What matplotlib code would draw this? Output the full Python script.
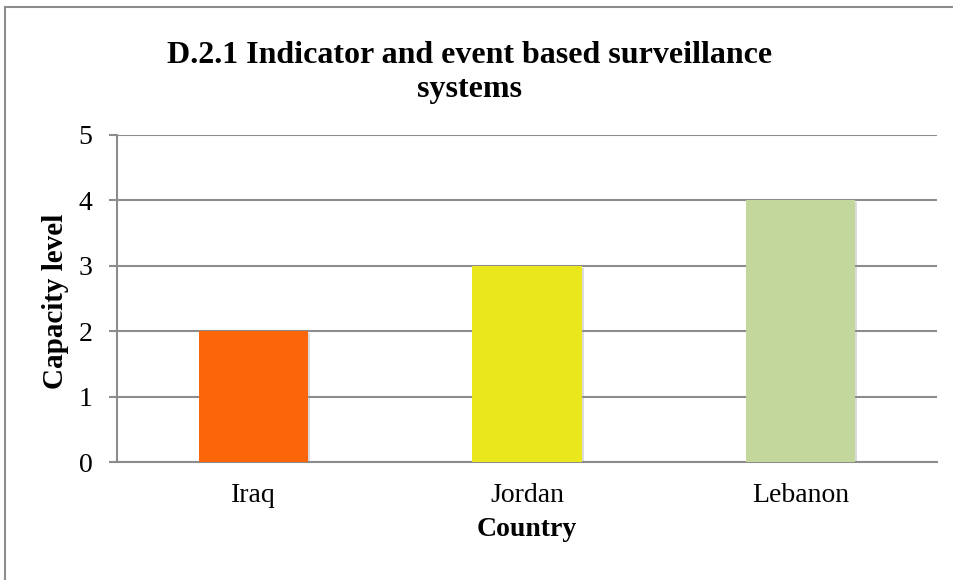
import matplotlib
matplotlib.use("Agg")
import matplotlib.pyplot as plt
import matplotlib.patheffects as pe
from matplotlib.lines import Line2D

countries = ["Iraq", "Jordan", "Lebanon"]
capacity = [2, 3, 4]
bar_colors = ["#FB660A", "#EAE81C", "#C3D69B"]
y_ticks = [0, 1, 2, 3, 4, 5]

title = "D.2.1 Indicator and event based surveillance\nsystems"

plt.rcParams["font.family"] = ["Liberation Serif", "DejaVu Serif"]

fig = plt.figure(figsize=(9.54, 5.80), dpi=100)
ax = fig.add_axes([117 / 954, 1 - 462 / 580, 820 / 954, 327 / 580])

bars = ax.bar(range(len(countries)), capacity, width=0.4, color=bar_colors, zorder=3)
for b in bars:
    b.set_path_effects([pe.SimplePatchShadow(offset=(1.5, -1.5), shadow_rgbFace="#999999", alpha=0.35),
                        pe.Normal()])

ax.set_xlim(-0.5, len(countries) - 0.5)
ax.set_ylim(0, 5)
ax.set_yticks(y_ticks)
ax.set_yticklabels([str(t) for t in y_ticks], fontsize=20)
ax.set_xticks(range(len(countries)))
ax.set_xticklabels(countries, fontsize=20)

grid_color = "#8C8C8C"
ax.yaxis.grid(True, color=grid_color, linewidth=1.5, zorder=0)
ax.xaxis.grid(False)
for s in ["top", "right"]:
    ax.spines[s].set_visible(False)
ax.spines["left"].set_color(grid_color)
ax.spines["left"].set_linewidth(1.5)
ax.spines["bottom"].set_color(grid_color)
ax.spines["bottom"].set_linewidth(1.5)
ax.tick_params(axis="y", length=5.8, width=1.5, color=grid_color, pad=12)
ax.tick_params(axis="x", length=0, pad=15)

ax.set_xlabel("Country", fontsize=20, fontweight="bold")
ax.set_ylabel("Capacity level", fontsize=21, fontweight="bold")
ax.xaxis.set_label_coords(0.5, (462 - 517) / 327)
ax.yaxis.set_label_coords((69 - 117) / 820, 0.49)

fig.text(470 / 954, 1 - 72.5 / 580, title, ha="center", va="center",
         fontsize=23, fontweight="bold", linespacing=1.25)

# chart frame edges
fig.add_artist(Line2D([5 / 954, 5 / 954], [0, 1 - 7 / 580], transform=fig.transFigure,
                      color=grid_color, linewidth=1.5))
fig.add_artist(Line2D([5 / 954, 1], [1 - 7 / 580, 1 - 7 / 580], transform=fig.transFigure,
                      color=grid_color, linewidth=1.5))

fig.savefig("out.png", dpi=100)
